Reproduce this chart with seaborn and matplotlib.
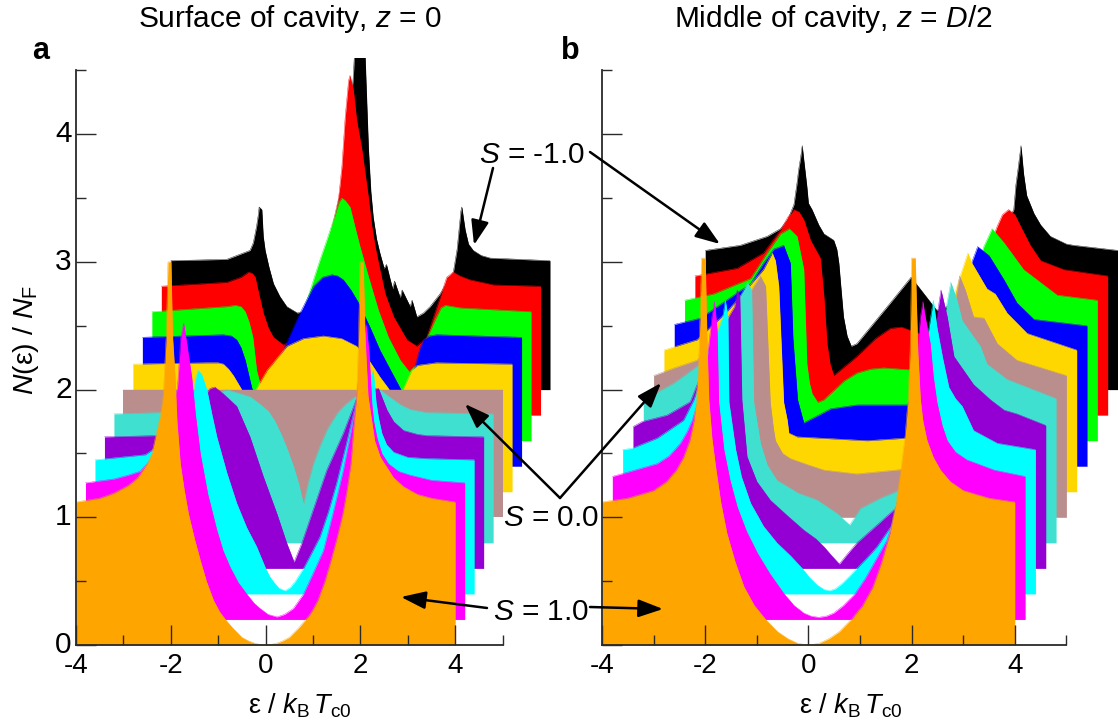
import matplotlib
matplotlib.use("Agg")
import matplotlib.pyplot as plt
from matplotlib.transforms import ScaledTranslation
import pandas as pd
import seaborn as sns

# curves run front to back: S = 1.0 (orange) ... S = -1.0 (black)
COLORS = ["#FFA500", "#FF00FF", "#00FFFF", "#9400D3", "#40E0D0", "#BA8E8C",
          "#FFD700", "#0000FF", "#00FF00", "#FF0000", "#000000"]
STEP = 0.2  # waterfall offset between neighbouring curves

# panel a, surface of cavity
a_orange_x = [-4, -3.5, -3.2, -2.9, -2.7, -2.5, -2.4, -2.3, -2.22, -2.16, -2.1, -2.06, -2.0, -1.96, -1.91, -1.87, -1.8, -1.72, -1.63, -1.5, -1.38, -1.25, -1.1, -0.97, -0.84, -0.7, -0.5, -0.35, -0.2, 0, 0.2, 0.35, 0.5, 0.7, 0.84, 0.97, 1.1, 1.25, 1.38, 1.5, 1.63, 1.72, 1.8, 1.87, 1.92, 1.96, 1.99, 2.06, 2.1, 2.16, 2.22, 2.3, 2.42, 2.7, 2.91, 3.2, 3.5, 4]
a_orange_n = [1.12, 1.15, 1.19, 1.25, 1.31, 1.42, 1.5, 1.67, 1.8, 1.95, 2.4, 3.0, 3.0, 2.4, 2.1, 1.75, 1.42, 1.22, 1.03, 0.83, 0.665, 0.5, 0.35, 0.26, 0.196, 0.135, 0.06, 0.03, 0.01, 0, 0.01, 0.03, 0.06, 0.135, 0.196, 0.26, 0.35, 0.5, 0.665, 0.83, 1.03, 1.22, 1.42, 1.75, 1.95, 2.4, 3.0, 3.0, 2.4, 1.95, 1.8, 1.6, 1.47, 1.31, 1.24, 1.18, 1.15, 1.12]
a_magenta_x = [-4, -3.4, -3.1, -2.85, -2.65, -2.5, -2.3, -2.06, -1.99, -1.93, -1.88, -1.82, -1.76, -1.68, -1.58, -1.42, -1.23, -1.1, -0.95, -0.78, -0.6, -0.45, -0.32, -0.15, 0.04, 0.2, 0.387, 0.6, 0.8, 1.02, 1.22, 1.44, 1.6, 1.71, 1.84, 1.92, 1.98, 2.04, 2.08, 2.15, 2.25, 2.39, 2.6, 2.85, 3.3, 4]
a_magenta_n = [1.07, 1.1, 1.13, 1.16, 1.24, 1.35, 1.52, 1.81, 2.21, 2.32, 2.2, 2.05, 1.9, 1.6, 1.3, 0.98, 0.7, 0.54, 0.41, 0.29, 0.2, 0.13, 0.087, 0.04, 0.02, 0.04, 0.087, 0.2, 0.36, 0.54, 0.83, 1.17, 1.47, 1.72, 2.15, 2.31, 2.1, 1.69, 1.55, 1.42, 1.3, 1.22, 1.16, 1.13, 1.09, 1.07]
a_cyan_x = [-4, -2.94, -2.5, -1.94, -1.87, -1.82, -1.75, -1.64, -1.53, -1.43, -1.22, -1.01, -0.8, -0.59, -0.4, -0.32, -0.235, -0.12, 0.01, 0.12, 0.22, 0.4, 0.57, 0.75, 0.93, 1.1, 1.3, 1.49, 1.7, 1.87, 1.93, 1.98, 2.05, 2.15, 2.3, 2.6, 3.0, 4]
a_cyan_n = [1.05, 1.09, 1.2, 1.54, 1.7, 1.75, 1.72, 1.6, 1.4, 1.23, 0.95, 0.71, 0.52, 0.37, 0.2, 0.14, 0.095, 0.045, 0.025, 0.05, 0.095, 0.2, 0.32, 0.45, 0.65, 0.87, 1.17, 1.47, 1.65, 1.75, 1.5, 1.38, 1.26, 1.17, 1.11, 1.07, 1.06, 1.05]
a_violet_x = [-4, -2.9, -2.2, -1.77, -1.67, -1.5, -1.21, -0.93, -0.65, -0.364, -0.153, 0, 0.164, 0.69, 1.04, 1.31, 1.6, 1.78, 1.96, 2.1, 2.31, 2.6, 2.8, 4]
a_violet_n = [1.03, 1.04, 1.18, 1.41, 1.42, 1.37, 1.27, 1.03, 0.72, 0.43, 0.196, 0.05, 0.2, 0.77, 1.06, 1.32, 1.4, 1.41, 1.24, 1.15, 1.08, 1.05, 1.04, 1.03]
a_turq_x = [-4, -3.03, -2.4, -1.62, -1.13, -0.93, -0.74, -0.6, -0.46, -0.34, -0.213, -0.1, 0, 0.1, 0.21, 0.35, 0.49, 0.6, 0.74, 0.9, 1.11, 1.615, 1.75, 1.9, 2.05, 2.25, 2.6, 4]
a_turq_n = [1.01, 1.02, 1.08, 1.2, 1.145, 1.09, 1.03, 0.95, 0.84, 0.73, 0.6, 0.46, 0.3, 0.47, 0.62, 0.76, 0.88, 0.95, 1.03, 1.09, 1.15, 1.2, 1.16, 1.12, 1.08, 1.045, 1.02, 1.01]
a_brown_x = [-4, -2, 0, 2, 4]
a_brown_n = [1.0, 1.0, 1.0, 1.0, 1.0]
a_gold_x = [-4, -2.44, -2.2, -2.09, -1.98, -1.88, -1.72, -1.55, -1.39, -1.17, -0.95, -0.75, -0.4, 0.02, 0.4, 0.72, 0.98, 1.21, 1.39, 1.55, 1.71, 1.88, 2.0, 2.2, 2.4, 4]
a_gold_n = [1.0, 1.01, 1.01, 1.0, 0.96, 0.91, 0.81, 0.7, 0.81, 0.95, 1.05, 1.14, 1.2, 1.22, 1.2, 1.14, 1.03, 0.9, 0.81, 0.7, 0.81, 0.95, 0.99, 1.0, 1.01, 1.0]
a_blue_x = [-4, -2.29, -2.12, -2.01, -1.92, -1.83, -1.76, -1.69, -1.5, -1.2, -0.99, -0.7, -0.39, -0.2, 0, 0.12, 0.24, 0.4, 0.56, 0.8, 1.01, 1.44, 1.6, 1.75, 1.85, 1.93, 2.05, 2.21, 4]
a_blue_n = [1.01, 1.03, 1.02, 0.99, 0.93, 0.83, 0.72, 0.61, 0.5, 0.7, 0.94, 1.18, 1.41, 1.48, 1.5, 1.49, 1.46, 1.38, 1.28, 1.09, 0.91, 0.61, 0.5, 0.78, 0.92, 0.99, 1.02, 1.03, 1.01]
a_lime_x = [-4, -2.42, -2.24, -2.12, -2.03, -1.95, -1.87, -1.79, -1.65, -1.3, -0.9, -0.59, -0.45, -0.31, -0.15, -0.05, 0.01, 0.08, 0.18, 0.28, 0.39, 0.58, 0.78, 0.99, 1.24, 1.43, 1.6, 1.8, 1.98, 2.1, 2.19, 2.35, 2.5, 4]
a_lime_n = [1.01, 1.05, 1.06, 1.05, 1.01, 0.93, 0.81, 0.55, 0.35, 0.5, 0.9, 1.26, 1.42, 1.57, 1.75, 1.87, 1.9, 1.88, 1.83, 1.68, 1.52, 1.27, 1.02, 0.81, 0.63, 0.54, 0.6, 0.8, 0.95, 1.04, 1.06, 1.05, 1.04, 1.01]
a_red_x = [-4, -2.62, -2.32, -2.16, -2.08, -2.02, -1.95, -1.85, -1.74, -1.635, -1.425, -1.1, -0.8, -0.5, -0.26, -0.19, -0.12, -0.05, -0.02, 0.05, 0.12, 0.23, 0.37, 0.44, 0.51, 0.61, 0.72, 0.9, 1.18, 1.39, 1.6, 1.88, 2.02, 2.16, 2.3, 2.51, 3.01, 4]
a_red_n = [1.01, 1.04, 1.08, 1.12, 1.11, 1.08, 0.96, 0.8, 0.68, 0.61, 0.55, 0.6, 0.9, 1.3, 1.7, 1.95, 2.34, 2.62, 2.66, 2.55, 2.31, 2.08, 1.7, 1.48, 1.32, 1.14, 0.95, 0.77, 0.59, 0.54, 0.61, 0.92, 1.08, 1.12, 1.09, 1.06, 1.02, 1.01]
a_black_x = [-4, -2.82, -2.33, -2.26, -2.19, -2.15, -2.137, -2.08, -2.05, -2.01, -1.93, -1.835, -1.7, -1.553, -1.33, -1.1, -0.7, -0.3, -0.15, -0.09, 0, 0.1, 0.17, 0.22, 0.27, 0.34, 0.41, 0.5, 0.55, 0.63, 0.68, 0.72, 0.84, 0.88, 1.05, 1.09, 1.19, 1.33, 1.47, 1.68, 1.96, 2.04, 2.08, 2.12, 2.14, 2.17, 2.21, 2.28, 2.38, 2.55, 2.74, 4]
a_black_n = [1.01, 1.02, 1.09, 1.15, 1.28, 1.38, 1.43, 1.41, 1.2, 1.09, 0.96, 0.83, 0.73, 0.65, 0.6, 0.62, 1.0, 1.8, 2.45, 2.9, 3.0, 2.6, 1.88, 1.55, 1.35, 1.18, 1.07, 0.95, 0.98, 0.86, 0.79, 0.85, 0.72, 0.78, 0.65, 0.7, 0.57, 0.6, 0.65, 0.75, 0.92, 1.1, 1.25, 1.4, 1.43, 1.35, 1.25, 1.14, 1.09, 1.05, 1.03, 1.01]

# panel b, middle of cavity
b_orange_x = [-4, -3.5, -3, -2.75, -2.56, -2.42, -2.3, -2.22, -2.17, -2.12, -2.07, -2.0, -1.96, -1.93, -1.87, -1.8, -1.7, -1.58, -1.42, -1.25, -1.05, -0.82, -0.6, -0.4, -0.2, 0, 0.2, 0.4, 0.6, 0.82, 1.05, 1.25, 1.42, 1.58, 1.7, 1.8, 1.87, 1.93, 1.97, 2.0, 2.07, 2.12, 2.17, 2.22, 2.3, 2.42, 2.56, 2.75, 3, 3.5, 4]
b_orange_n = [1.12, 1.15, 1.21, 1.28, 1.37, 1.47, 1.6, 1.75, 1.92, 2.3, 3.03, 3.03, 2.3, 1.92, 1.62, 1.4, 1.12, 0.875, 0.65, 0.457, 0.31, 0.196, 0.105, 0.05, 0.012, 0, 0.012, 0.05, 0.105, 0.196, 0.31, 0.457, 0.65, 0.875, 1.12, 1.4, 1.62, 1.92, 2.3, 3.03, 3.03, 2.3, 1.92, 1.75, 1.6, 1.47, 1.37, 1.28, 1.21, 1.15, 1.12]
b_magenta_x = [-4, -3.82, -3.13, -2.9, -2.68, -2.55, -2.45, -2.2, -2.07, -2.02, -1.97, -1.94, -1.84, -1.72, -1.58, -1.4, -1.19, -0.95, -0.68, -0.48, -0.29, -0.14, 0, 0.14, 0.29, 0.48, 0.7, 0.9, 1.07, 1.32, 1.5, 1.7, 1.85, 1.97, 2.02, 2.05, 2.16, 2.22, 2.29, 2.39, 2.49, 2.65, 2.87, 3.4, 4]
b_magenta_n = [1.12, 1.14, 1.22, 1.28, 1.38, 1.47, 1.56, 1.9, 2.37, 2.49, 2.27, 1.7, 1.33, 1.09, 0.88, 0.69, 0.52, 0.36, 0.205, 0.11, 0.05, 0.025, 0.017, 0.025, 0.05, 0.11, 0.2, 0.32, 0.44, 0.62, 0.85, 1.3, 1.8, 2.37, 2.49, 2.4, 2.16, 1.9, 1.7, 1.52, 1.4, 1.31, 1.25, 1.17, 1.12]
b_cyan_x = [-4, -3.82, -3.33, -2.82, -2.62, -2.3, -2.06, -2.01, -1.96, -1.94, -1.81, -1.7, -1.52, -1.27, -1.01, -0.75, -0.52, -0.38, -0.23, -0.1, 0.01, 0.12, 0.25, 0.4, 0.54, 0.73, 0.93, 1.22, 1.6, 1.97, 2.02, 2.09, 2.2, 2.32, 2.45, 2.58, 2.8, 3.26, 4]
b_cyan_n = [1.13, 1.14, 1.22, 1.36, 1.52, 1.9, 2.17, 2.3, 2.17, 1.5, 1.13, 0.92, 0.71, 0.53, 0.4, 0.3, 0.2, 0.13, 0.07, 0.035, 0.025, 0.04, 0.08, 0.14, 0.2, 0.28, 0.37, 0.54, 1.2, 2.17, 2.3, 2.09, 1.85, 1.62, 1.53, 1.47, 1.28, 1.18, 1.13]
b_violet_x = [-4, -3.82, -3.34, -2.89, -2.4, -2.03, -1.98, -1.93, -1.89, -1.79, -1.6, -1.34, -1.0, -0.69, -0.45, -0.3, -0.15, 0, 0.15, 0.34, 0.73, 1.09, 1.5, 1.9, 1.97, 2.09, 2.22, 2.6, 2.93, 3.19, 3.44, 4]
b_violet_n = [1.11, 1.15, 1.2, 1.305, 1.8, 2.05, 2.18, 2.13, 1.32, 0.875, 0.68, 0.535, 0.41, 0.3, 0.23, 0.17, 0.1, 0.034, 0.11, 0.2, 0.34, 0.47, 1.1, 2.0, 2.18, 1.97, 1.66, 1.44, 1.32, 1.24, 1.21, 1.12]
b_turq_x = [-4, -3.41, -2.9, -2.4, -2.12, -1.98, -1.9, -1.86, -1.73, -1.6, -1.41, -1.0, -0.63, -0.245, 0, 0.21, 0.595, 0.95, 1.4, 1.85, 1.96, 2.08, 2.18, 2.53, 2.66, 3.05, 4]
b_turq_n = [1.12, 1.25, 1.4, 1.7, 1.93, 2.04, 1.98, 1.1, 0.78, 0.61, 0.49, 0.39, 0.335, 0.23, 0.14, 0.27, 0.35, 0.41, 1.1, 1.8, 2.04, 1.9, 1.74, 1.54, 1.4, 1.28, 1.13]
b_brown_x = [-4, -3.6, -3.16, -2.5, -2.06, -1.93, -1.83, -1.74, -1.68, -1.64, -1.5, -1.35, -1.0, -0.7, -0.06, 0.82, 1.3, 1.85, 1.93, 2.04, 2.2, 2.4, 2.66, 3.04, 4]
b_brown_n = [1.11, 1.17, 1.23, 1.5, 1.81, 1.89, 1.81, 0.9, 0.7, 0.6, 0.5, 0.46, 0.41, 0.37, 0.34, 0.375, 1.0, 1.7, 1.89, 1.78, 1.57, 1.56, 1.36, 1.23, 1.11]
b_gold_x = [-4, -3.36, -2.8, -2.07, -1.9, -1.84, -1.775, -1.68, -1.61, -1.58, -1.42, -0.06, 0.68, 1.2, 1.75, 1.89, 1.97, 2.26, 2.42, 2.65, 3.04, 4]
b_gold_n = [1.11, 1.19, 1.4, 1.74, 1.87, 1.81, 1.61, 0.7, 0.56, 0.46, 0.43, 0.4, 0.42, 1.0, 1.7, 1.87, 1.79, 1.59, 1.55, 1.4, 1.24, 1.11]
b_blue_x = [-4, -3.49, -2.52, -2.27, -2.07, -1.88, -1.75, -1.7, -1.61, -1.49, -1.25, -0.97, -0.46, 0.51, 1.2, 1.75, 1.88, 2.1, 2.39, 2.64, 2.97, 4]
b_blue_n = [1.11, 1.16, 1.43, 1.59, 1.7, 1.73, 1.59, 1.0, 0.52, 0.34, 0.39, 0.45, 0.48, 0.48, 0.9, 1.58, 1.72, 1.65, 1.46, 1.28, 1.15, 1.1]
b_lime_x = [-4, -3.43, -2.72, -2.4, -2.14, -1.97, -1.82, -1.69, -1.63, -1.58, -1.53, -1.42, -1.3, -1.17, -0.9, -0.66, -0.4, -0.14, 0.2, 0.57, 1.2, 1.5, 1.8, 1.96, 2.19, 2.57, 3.22, 4]
b_lime_n = [1.1, 1.15, 1.27, 1.47, 1.62, 1.66, 1.6, 1.34, 0.6, 0.45, 0.37, 0.3, 0.32, 0.37, 0.47, 0.53, 0.56, 0.57, 0.56, 0.55, 0.75, 1.15, 1.52, 1.66, 1.55, 1.34, 1.14, 1.1]
b_red_x = [-4, -3.18, -2.67, -2.34, -2.2, -2.08, -1.98, -1.89, -1.76, -1.57, -1.5, -1.44, -1.38, -1.31, -1.1, -0.86, -0.5, -0.21, 0, 0.34, 1.0, 1.5, 1.86, 1.96, 2.08, 2.2, 2.31, 2.5, 2.7, 3.15, 4]
b_red_n = [1.09, 1.15, 1.27, 1.45, 1.55, 1.61, 1.59, 1.53, 1.37, 1.23, 0.93, 0.56, 0.4, 0.31, 0.38, 0.46, 0.6, 0.68, 0.69, 0.64, 0.7, 1.1, 1.48, 1.57, 1.61, 1.57, 1.48, 1.33, 1.21, 1.14, 1.09]
b_black_x = [-4, -3.32, -2.8, -2.54, -2.4, -2.28, -2.22, -2.19, -2.15, -2.12, -2.09, -2.03, -2.0, -1.93, -1.8, -1.7, -1.51, -1.45, -1.41, -1.37, -1.32, -1.25, -1.17, -1.06, -0.41, -0.01, 0.24, 0.49, 1.0, 1.5, 1.8, 1.92, 1.98, 2.02, 2.06, 2.12, 2.17, 2.23, 2.37, 2.5, 2.69, 3.0, 3.14, 4]
b_black_n = [1.09, 1.13, 1.2, 1.26, 1.33, 1.45, 1.62, 1.72, 1.82, 1.91, 1.8, 1.59, 1.46, 1.41, 1.29, 1.22, 1.17, 1.1, 0.99, 0.8, 0.57, 0.42, 0.34, 0.36, 0.68, 0.88, 0.75, 0.62, 0.7, 1.0, 1.2, 1.36, 1.41, 1.6, 1.72, 1.91, 1.69, 1.52, 1.38, 1.29, 1.2, 1.14, 1.13, 1.09]

A_CURVES = [(a_orange_x, a_orange_n), (a_magenta_x, a_magenta_n), (a_cyan_x, a_cyan_n),
            (a_violet_x, a_violet_n), (a_turq_x, a_turq_n), (a_brown_x, a_brown_n),
            (a_gold_x, a_gold_n), (a_blue_x, a_blue_n), (a_lime_x, a_lime_n),
            (a_red_x, a_red_n), (a_black_x, a_black_n)]
B_CURVES = [(b_orange_x, b_orange_n), (b_magenta_x, b_magenta_n), (b_cyan_x, b_cyan_n),
            (b_violet_x, b_violet_n), (b_turq_x, b_turq_n), (b_brown_x, b_brown_n),
            (b_gold_x, b_gold_n), (b_blue_x, b_blue_n), (b_lime_x, b_lime_n),
            (b_red_x, b_red_n), (b_black_x, b_black_n)]

W, H = 1118, 727
FS = 21.5
INK = "#2a2a2a"


def fx(px):
    return px / W


def fy(py):
    return 1 - py / H


def draw_panel(ax, curves, right_lim):
    # back to front so the orange S = 1.0 curve ends up on top
    for i in range(len(curves) - 1, -1, -1):
        x, n = curves[i]
        shift = i * STEP
        df = pd.DataFrame({"e": [v + shift for v in x], "n": [v + shift for v in n]})
        z = 1.1 + (len(curves) - i) * 0.1
        ax.fill_between(df["e"], shift, df["n"], color=COLORS[i], lw=0, zorder=z)
        sns.lineplot(data=df, x="e", y="n", color=COLORS[i], lw=0.3, sort=False,
                     estimator=None, ax=ax, zorder=z)
    ax.set_xlim(-4, right_lim)
    ax.set_ylim(0, 4.6)
    ax.set_xticks([-4, -2, 0, 2, 4])
    ax.set_xticks([-3, -1, 1, 3, 5], minor=True)
    ax.set_yticks([0, 1, 2, 3, 4])
    ax.set_yticks([0.5, 1.5, 2.5, 3.5, 4.5], minor=True)
    ax.set_xlabel("")
    ax.set_ylabel("")
    ax.set_axisbelow(False)
    ax.tick_params(which="major", direction="in", length=14.4, width=1.0, color=INK, labelcolor="black")
    ax.tick_params(which="minor", direction="in", length=7.2, width=1.0, color=INK)
    ax.tick_params(axis="x", which="major", labelsize=20, pad=6)
    ax.tick_params(axis="y", which="major", labelsize=FS, pad=3)
    sns.despine(ax=ax)
    ax.spines["left"].set_bounds(0, 4.5)
    ax.spines["bottom"].set_bounds(-4, 5)
    for s in ["left", "bottom"]:
        ax.spines[s].set_linewidth(1.3)
        ax.spines[s].set_color(INK)
    ax.patch.set_alpha(0)


def main():
    sns.set_theme(style="ticks")
    plt.rcParams["font.family"] = ["Liberation Sans", "DejaVu Sans"]
    plt.rcParams["mathtext.fontset"] = "custom"
    plt.rcParams["mathtext.rm"] = "Liberation Sans"
    plt.rcParams["mathtext.it"] = "Liberation Sans:italic"
    plt.rcParams["axes.unicode_minus"] = False

    fig = plt.figure(figsize=(W / 100, H / 100), dpi=100, facecolor="white")
    ax_a = fig.add_axes([fx(76), fy(645), fx(483.5), 587.4 / H])
    ax_b = fig.add_axes([fx(602), fy(645), fx(516), 587.4 / H])

    draw_panel(ax_a, A_CURVES, 6.2)
    draw_panel(ax_b, B_CURVES, 6.0)
    ax_b.set_yticklabels([])

    # y labels sit a little above their ticks in the original
    nudge = ScaledTranslation(0, 3 / 100, fig.dpi_scale_trans)
    for lab in ax_a.get_yticklabels():
        lab.set_transform(lab.get_transform() + nudge)

    text_kw = dict(ha="center", va="center", color="black", zorder=5)
    fig.text(fx(290), fy(19), "Surface of cavity, $\\mathit{z}$ = 0", fontsize=FS, **text_kw)
    fig.text(fx(833.5), fy(19), "Middle of cavity, $\\mathit{z}$ = $\\mathit{D}$/2", fontsize=FS, **text_kw)
    fig.text(fx(41), fy(51), "a", fontsize=22, fontweight="bold", **text_kw)
    fig.text(fx(570), fy(51), "b", fontsize=22, fontweight="bold", **text_kw)
    fig.text(fx(26), fy(340), "$\\mathit{N}$(ε) / $\\mathit{N}_{\\mathrm{F}}$", fontsize=20.5, rotation=90, **text_kw)
    xlab = "ε / $\\mathit{k}_{\\mathrm{B}}\\,\\mathit{T}_{\\mathrm{c0}}$"
    fig.text(fx(300), fy(706), xlab, fontsize=19.5, **text_kw)
    fig.text(fx(851), fy(706), xlab, fontsize=19.5, **text_kw)
    fig.text(fx(532.5), fy(155), "$\\mathit{S}$ = -1.0", fontsize=FS, **text_kw)
    fig.text(fx(551), fy(518), "$\\mathit{S}$ = 0.0", fontsize=FS, **text_kw)
    fig.text(fx(541), fy(612), "$\\mathit{S}$ = 1.0", fontsize=FS, **text_kw)

    arrows = [((493, 168), (474, 245)), ((590, 152), (720, 244)),
              ((560, 498), (465, 404)), ((560, 498), (661, 383)),
              ((487, 608), (401, 597)), ((590, 607), (663, 609))]
    for start, tip in arrows:
        ax_b.annotate("", xy=(fx(tip[0]), fy(tip[1])), xytext=(fx(start[0]), fy(start[1])),
                      xycoords="figure fraction", textcoords="figure fraction",
                      annotation_clip=False, zorder=6,
                      arrowprops=dict(arrowstyle="-|>,head_length=0.75,head_width=0.27", color="black",
                                      lw=1.8, mutation_scale=20, shrinkA=0, shrinkB=0))

    fig.savefig("out.png", dpi=100)


if __name__ == "__main__":
    main()
